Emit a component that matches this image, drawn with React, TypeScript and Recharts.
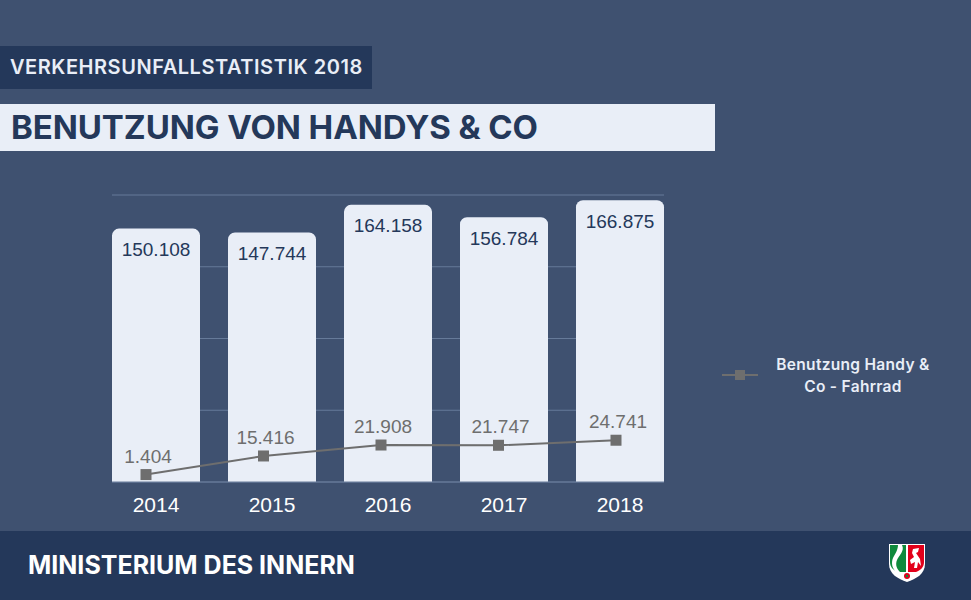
import { Bar, CartesianGrid, ComposedChart, LabelList, Legend, Line, XAxis, YAxis } from 'recharts';

const years = ['2014', '2015', '2016', '2017', '2018'];
const accidents = [150108, 147744, 164158, 156784, 166875];
const accidentLabels = ['150.108', '147.744', '164.158', '156.784', '166.875'];
// the first marker sits higher in the picture than its 1.404 label would put it
const phoneUse = [4400, 15416, 21908, 21747, 24741];
const phoneLabels = ['1.404', '15.416', '21.908', '21.747', '24.741'];
const yTicks = [0, 42500, 85000, 127500, 170000];

const data = years.map((year, i) => ({
  year,
  accidents: accidents[i],
  accidentLabel: accidentLabels[i],
  phoneUse: phoneUse[i],
  phoneLabel: phoneLabels[i],
}));

const NAVY = '#24385a';
const PALE = '#e9eef7';
const GREY = '#6e6e6e';
const BG = '#3f5170';
const GRID = '#667a99';
const SANS = '"Liberation Sans", Arial, sans-serif';
const HEAD = 'Inter, sans-serif';

const SquareDot = (props: any) => (
  <rect x={props.cx - 5.5} y={props.cy - 5.5} width={11} height={11} fill={GREY} />
);

const PhoneLegend = () => (
  <div style={{ display: 'flex', alignItems: 'center', width: 240, height: 50 }}>
    <svg width={40} height={14} style={{ flex: 'none' }}>
      <line x1={2} x2={38} y1={7} y2={7} stroke={GREY} strokeWidth={2} />
      <rect x={15} y={2} width={10} height={10} fill={GREY} />
    </svg>
    <div
      style={{
        width: 180,
        marginLeft: 3,
        marginTop: 2,
        textAlign: 'center',
        color: PALE,
        fontFamily: HEAD,
        fontWeight: 600,
        fontSize: 15.5,
        letterSpacing: 0.3,
        lineHeight: '22px',
        whiteSpace: 'nowrap',
      }}
    >
      Benutzung Handy &amp;
      <br />
      Co - Fahrrad
    </div>
  </div>
);

const Crest = () => (
  <svg width={38} height={38} viewBox="0 0 38 38" style={{ position: 'absolute', left: 888, top: 544 }}>
    <path d="M1 0H37V20C37 30 28 35 19 38C10 35 1 30 1 20Z" fill="#ffffff" />
    <path d="M2 1H18V28H10C5 26 2 23 2 18Z" fill="#0f8a3c" />
    <path d="M20 1H36V18C36 23 33 26 28 28H20Z" fill="#e2001a" />
    <path d="M14 1C17 7 11 11 9 16C7 21 9 25 12 28H8C4 24 3 19 5 14C7 10 10 6 10 1Z" fill="#ffffff" />
    <path d="M25 5L31 4L30 8L28 9L32 15L33 22L30 18L29 24H26L27 18L23 20L22 16L26 13L24 9Z" fill="#ffffff" />
    <circle cx={19} cy={32} r={3} fill="#e2001a" />
    <circle cx={19} cy={32} r={1.2} fill="#0f8a3c" />
  </svg>
);

export default function App() {
  return (
    <div style={{ position: 'absolute', left: 0, top: 0, width: 971, height: 600, overflow: 'hidden', background: BG }}>
      <div
        style={{
          position: 'absolute',
          left: 0,
          top: 46,
          width: 372,
          height: 43,
          background: NAVY,
          color: PALE,
          fontFamily: HEAD,
          fontWeight: 600,
          fontSize: 20,
          letterSpacing: 0.54,
          lineHeight: '43px',
          paddingLeft: 10,
          boxSizing: 'border-box',
          whiteSpace: 'nowrap',
        }}
      >
        VERKEHRSUNFALLSTATISTIK 2018
      </div>
      <div
        style={{
          position: 'absolute',
          left: 0,
          top: 104,
          width: 715,
          height: 47,
          background: PALE,
          color: NAVY,
          fontFamily: HEAD,
          fontWeight: 700,
          fontSize: 33,
          letterSpacing: -0.08,
          lineHeight: '47px',
          paddingLeft: 11,
          boxSizing: 'border-box',
          whiteSpace: 'nowrap',
        }}
      >
        BENUTZUNG VON HANDYS &amp; CO
      </div>

      <div style={{ position: 'absolute', left: 0, top: 0 }}>
        <ComposedChart
          width={971}
          height={600}
          data={data}
          margin={{ top: 195, right: 67, bottom: 78, left: 112 }}
        >
          <CartesianGrid horizontal vertical={false} stroke={GRID} strokeWidth={1} />
          <XAxis
            dataKey="year"
            height={40}
            padding={{ left: -14, right: -14 }}
            tickLine={false}
            axisLine={{ stroke: GRID }}
            tickMargin={9}
            tick={{ fill: '#ffffff', fontSize: 21, fontFamily: SANS }}
          />
          <XAxis xAxisId={1} dataKey="year" hide padding={{ left: -24.75, right: -10.75 }} />
          <YAxis hide domain={[0, 170000]} ticks={yTicks} />
          <Bar dataKey="accidents" fill={PALE} barSize={88} radius={[7, 7, 0, 0]} isAnimationActive={false}>
            <LabelList
              dataKey="accidentLabel"
              position="insideTop"
              offset={14}
              fill={NAVY}
              fontSize={19}
              fontFamily={SANS}
            />
          </Bar>
          <Line
            xAxisId={1}
            dataKey="phoneUse"
            stroke={GREY}
            strokeWidth={2}
            dot={SquareDot}
            activeDot={false}
            type="linear"
            isAnimationActive={false}
          >
            <LabelList
              dataKey="phoneLabel"
              position="top"
              offset={12}
              dx={2}
              fill={GREY}
              fontSize={19}
              fontFamily={SANS}
            />
          </Line>
          <Legend
            layout="vertical"
            align="right"
            verticalAlign="middle"
            width={240}
            content={PhoneLegend}
            wrapperStyle={{ left: 720, top: 350, right: 'auto', bottom: 'auto' }}
          />
        </ComposedChart>
      </div>

      <div style={{ position: 'absolute', left: 0, top: 531, width: 971, height: 69, background: NAVY }} />
      <div
        style={{
          position: 'absolute',
          left: 28,
          top: 532,
          height: 66,
          lineHeight: '66px',
          color: '#ffffff',
          fontFamily: HEAD,
          fontWeight: 700,
          fontSize: 25,
          whiteSpace: 'nowrap',
        }}
      >
        MINISTERIUM DES INNERN
      </div>
      <Crest />
    </div>
  );
}
